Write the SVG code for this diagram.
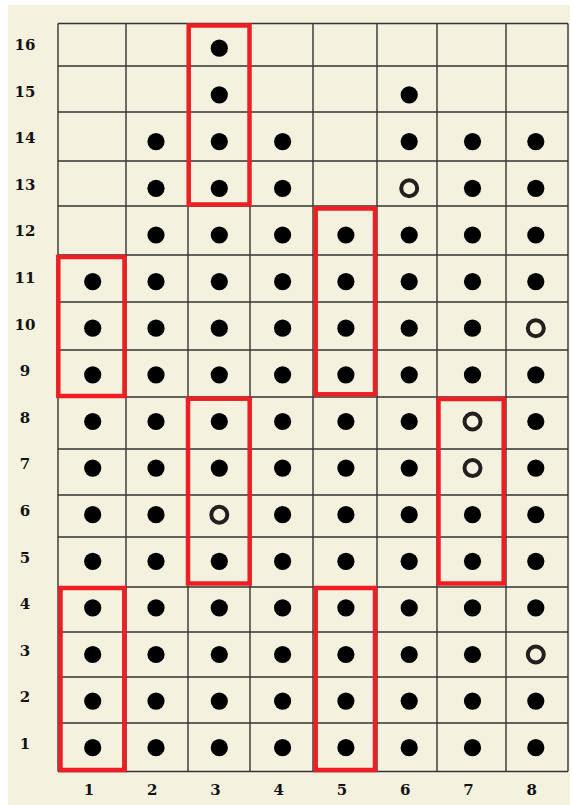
<svg xmlns="http://www.w3.org/2000/svg" width="572" height="805" viewBox="0 0 572 805">
<style>
.grid line{stroke:#333;stroke-width:1.4}
.box{fill:none;stroke:#ed1f24;stroke-width:4.5}
.d{fill:#000}
.h{fill:none;stroke:#231f20;stroke-width:4}
.lbl{font-family:"DejaVu Serif","Liberation Serif",serif;font-weight:bold;font-size:15px;fill:#111;text-anchor:middle}
</style>
<rect x="0" y="0" width="572" height="805" fill="#ffffff"/>
<rect x="8" y="5" width="562" height="800" fill="#f4f2df"/>
<g id="grid" class="grid">
<line x1="58" y1="23.5" x2="58" y2="771.5"/>
<line x1="126" y1="23.5" x2="126" y2="771.5"/>
<line x1="188" y1="23.5" x2="188" y2="771.5"/>
<line x1="250" y1="23.5" x2="250" y2="771.5"/>
<line x1="313" y1="23.5" x2="313" y2="771.5"/>
<line x1="377" y1="23.5" x2="377" y2="771.5"/>
<line x1="437" y1="23.5" x2="437" y2="771.5"/>
<line x1="506" y1="23.5" x2="506" y2="771.5"/>
<line x1="568" y1="23.5" x2="568" y2="771.5"/>
<line x1="58" y1="23.5" x2="568" y2="23.5"/>
<line x1="58" y1="66" x2="568" y2="66"/>
<line x1="58" y1="112" x2="568" y2="112"/>
<line x1="58" y1="161" x2="568" y2="161"/>
<line x1="58" y1="206" x2="568" y2="206"/>
<line x1="58" y1="255" x2="568" y2="255"/>
<line x1="58" y1="302" x2="568" y2="302"/>
<line x1="58" y1="350" x2="568" y2="350"/>
<line x1="58" y1="397" x2="568" y2="397"/>
<line x1="58" y1="449" x2="568" y2="449"/>
<line x1="58" y1="495" x2="568" y2="495"/>
<line x1="58" y1="537" x2="568" y2="537"/>
<line x1="58" y1="587" x2="568" y2="587"/>
<line x1="58" y1="632" x2="568" y2="632"/>
<line x1="58" y1="677" x2="568" y2="677"/>
<line x1="58" y1="723" x2="568" y2="723"/>
<line x1="58" y1="771.5" x2="568" y2="771.5"/>
</g>
<g id="row-labels" class="lbl">
<text x="25" y="50">16</text>
<text x="25" y="96.6">15</text>
<text x="25" y="143.2">14</text>
<text x="25" y="189.8">13</text>
<text x="25" y="236.4">12</text>
<text x="25" y="283">11</text>
<text x="25" y="329.6">10</text>
<text x="25" y="376.2">9</text>
<text x="25" y="422.8">8</text>
<text x="25" y="469.4">7</text>
<text x="25" y="516">6</text>
<text x="25" y="562.6">5</text>
<text x="25" y="609.2">4</text>
<text x="25" y="655.8">3</text>
<text x="25" y="702.4">2</text>
<text x="25" y="749">1</text>
</g>
<g id="col-labels" class="lbl">
<text x="89" y="794.5">1</text>
<text x="152.3" y="794.5">2</text>
<text x="215.5" y="794.5">3</text>
<text x="278.8" y="794.5">4</text>
<text x="342" y="794.5">5</text>
<text x="405.3" y="794.5">6</text>
<text x="468.5" y="794.5">7</text>
<text x="531.8" y="794.5">8</text>
</g>
<g id="dots">
<circle class="d" cx="219.3" cy="48.2" r="8.6"/>
<circle class="d" cx="219.3" cy="94.9" r="8.6"/>
<circle class="d" cx="409.2" cy="94.9" r="8.6"/>
<circle class="d" cx="156" cy="141.6" r="8.6"/>
<circle class="d" cx="219.3" cy="141.6" r="8.6"/>
<circle class="d" cx="282.6" cy="141.6" r="8.6"/>
<circle class="d" cx="409.2" cy="141.6" r="8.6"/>
<circle class="d" cx="472.5" cy="141.6" r="8.6"/>
<circle class="d" cx="535.8" cy="141.6" r="8.6"/>
<circle class="d" cx="156" cy="188.3" r="8.6"/>
<circle class="d" cx="219.3" cy="188.3" r="8.6"/>
<circle class="d" cx="282.6" cy="188.3" r="8.6"/>
<circle class="h" cx="409.2" cy="188.3" r="8"/>
<circle class="d" cx="472.5" cy="188.3" r="8.6"/>
<circle class="d" cx="535.8" cy="188.3" r="8.6"/>
<circle class="d" cx="156" cy="235" r="8.6"/>
<circle class="d" cx="219.3" cy="235" r="8.6"/>
<circle class="d" cx="282.6" cy="235" r="8.6"/>
<circle class="d" cx="345.9" cy="235" r="8.6"/>
<circle class="d" cx="409.2" cy="235" r="8.6"/>
<circle class="d" cx="472.5" cy="235" r="8.6"/>
<circle class="d" cx="535.8" cy="235" r="8.6"/>
<circle class="d" cx="92.7" cy="281.6" r="8.6"/>
<circle class="d" cx="156" cy="281.6" r="8.6"/>
<circle class="d" cx="219.3" cy="281.6" r="8.6"/>
<circle class="d" cx="282.6" cy="281.6" r="8.6"/>
<circle class="d" cx="345.9" cy="281.6" r="8.6"/>
<circle class="d" cx="409.2" cy="281.6" r="8.6"/>
<circle class="d" cx="472.5" cy="281.6" r="8.6"/>
<circle class="d" cx="535.8" cy="281.6" r="8.6"/>
<circle class="d" cx="92.7" cy="328.2" r="8.6"/>
<circle class="d" cx="156" cy="328.2" r="8.6"/>
<circle class="d" cx="219.3" cy="328.2" r="8.6"/>
<circle class="d" cx="282.6" cy="328.2" r="8.6"/>
<circle class="d" cx="345.9" cy="328.2" r="8.6"/>
<circle class="d" cx="409.2" cy="328.2" r="8.6"/>
<circle class="d" cx="472.5" cy="328.2" r="8.6"/>
<circle class="h" cx="535.8" cy="328.2" r="8"/>
<circle class="d" cx="92.7" cy="374.8" r="8.6"/>
<circle class="d" cx="156" cy="374.8" r="8.6"/>
<circle class="d" cx="219.3" cy="374.8" r="8.6"/>
<circle class="d" cx="282.6" cy="374.8" r="8.6"/>
<circle class="d" cx="345.9" cy="374.8" r="8.6"/>
<circle class="d" cx="409.2" cy="374.8" r="8.6"/>
<circle class="d" cx="472.5" cy="374.8" r="8.6"/>
<circle class="d" cx="535.8" cy="374.8" r="8.6"/>
<circle class="d" cx="92.7" cy="421.5" r="8.6"/>
<circle class="d" cx="156" cy="421.5" r="8.6"/>
<circle class="d" cx="219.3" cy="421.5" r="8.6"/>
<circle class="d" cx="282.6" cy="421.5" r="8.6"/>
<circle class="d" cx="345.9" cy="421.5" r="8.6"/>
<circle class="d" cx="409.2" cy="421.5" r="8.6"/>
<circle class="h" cx="472.5" cy="421.5" r="8"/>
<circle class="d" cx="535.8" cy="421.5" r="8.6"/>
<circle class="d" cx="92.7" cy="468.1" r="8.6"/>
<circle class="d" cx="156" cy="468.1" r="8.6"/>
<circle class="d" cx="219.3" cy="468.1" r="8.6"/>
<circle class="d" cx="282.6" cy="468.1" r="8.6"/>
<circle class="d" cx="345.9" cy="468.1" r="8.6"/>
<circle class="d" cx="409.2" cy="468.1" r="8.6"/>
<circle class="h" cx="472.5" cy="468.1" r="8"/>
<circle class="d" cx="535.8" cy="468.1" r="8.6"/>
<circle class="d" cx="92.7" cy="514.7" r="8.6"/>
<circle class="d" cx="156" cy="514.7" r="8.6"/>
<circle class="h" cx="219.3" cy="514.7" r="8"/>
<circle class="d" cx="282.6" cy="514.7" r="8.6"/>
<circle class="d" cx="345.9" cy="514.7" r="8.6"/>
<circle class="d" cx="409.2" cy="514.7" r="8.6"/>
<circle class="d" cx="472.5" cy="514.7" r="8.6"/>
<circle class="d" cx="535.8" cy="514.7" r="8.6"/>
<circle class="d" cx="92.7" cy="561.3" r="8.6"/>
<circle class="d" cx="156" cy="561.3" r="8.6"/>
<circle class="d" cx="219.3" cy="561.3" r="8.6"/>
<circle class="d" cx="282.6" cy="561.3" r="8.6"/>
<circle class="d" cx="345.9" cy="561.3" r="8.6"/>
<circle class="d" cx="409.2" cy="561.3" r="8.6"/>
<circle class="d" cx="472.5" cy="561.3" r="8.6"/>
<circle class="d" cx="535.8" cy="561.3" r="8.6"/>
<circle class="d" cx="92.7" cy="607.9" r="8.6"/>
<circle class="d" cx="156" cy="607.9" r="8.6"/>
<circle class="d" cx="219.3" cy="607.9" r="8.6"/>
<circle class="d" cx="282.6" cy="607.9" r="8.6"/>
<circle class="d" cx="345.9" cy="607.9" r="8.6"/>
<circle class="d" cx="409.2" cy="607.9" r="8.6"/>
<circle class="d" cx="472.5" cy="607.9" r="8.6"/>
<circle class="d" cx="535.8" cy="607.9" r="8.6"/>
<circle class="d" cx="92.7" cy="654.5" r="8.6"/>
<circle class="d" cx="156" cy="654.5" r="8.6"/>
<circle class="d" cx="219.3" cy="654.5" r="8.6"/>
<circle class="d" cx="282.6" cy="654.5" r="8.6"/>
<circle class="d" cx="345.9" cy="654.5" r="8.6"/>
<circle class="d" cx="409.2" cy="654.5" r="8.6"/>
<circle class="d" cx="472.5" cy="654.5" r="8.6"/>
<circle class="h" cx="535.8" cy="654.5" r="8"/>
<circle class="d" cx="92.7" cy="701.1" r="8.6"/>
<circle class="d" cx="156" cy="701.1" r="8.6"/>
<circle class="d" cx="219.3" cy="701.1" r="8.6"/>
<circle class="d" cx="282.6" cy="701.1" r="8.6"/>
<circle class="d" cx="345.9" cy="701.1" r="8.6"/>
<circle class="d" cx="409.2" cy="701.1" r="8.6"/>
<circle class="d" cx="472.5" cy="701.1" r="8.6"/>
<circle class="d" cx="535.8" cy="701.1" r="8.6"/>
<circle class="d" cx="92.7" cy="747.7" r="8.6"/>
<circle class="d" cx="156" cy="747.7" r="8.6"/>
<circle class="d" cx="219.3" cy="747.7" r="8.6"/>
<circle class="d" cx="282.6" cy="747.7" r="8.6"/>
<circle class="d" cx="345.9" cy="747.7" r="8.6"/>
<circle class="d" cx="409.2" cy="747.7" r="8.6"/>
<circle class="d" cx="472.5" cy="747.7" r="8.6"/>
<circle class="d" cx="535.8" cy="747.7" r="8.6"/>
</g>
<g id="boxes">
<rect id="box-c3-r13-16" class="box" x="188.7" y="25.5" width="60.8" height="179"/>
<rect id="box-c1-r9-11" class="box" x="58.3" y="257" width="66.2" height="139"/>
<rect id="box-c5-r9-12" class="box" x="315.7" y="208.5" width="59.3" height="185.8"/>
<rect id="box-c3-r5-8" class="box" x="188" y="398.7" width="61.7" height="184.8"/>
<rect id="box-c7-r5-8" class="box" x="438.5" y="399" width="65.2" height="184.5"/>
<rect id="box-c1-r1-4" class="box" x="60.5" y="588" width="63.8" height="182"/>
<rect id="box-c5-r1-4" class="box" x="315.7" y="588" width="59.3" height="182"/>
</g>
</svg>
